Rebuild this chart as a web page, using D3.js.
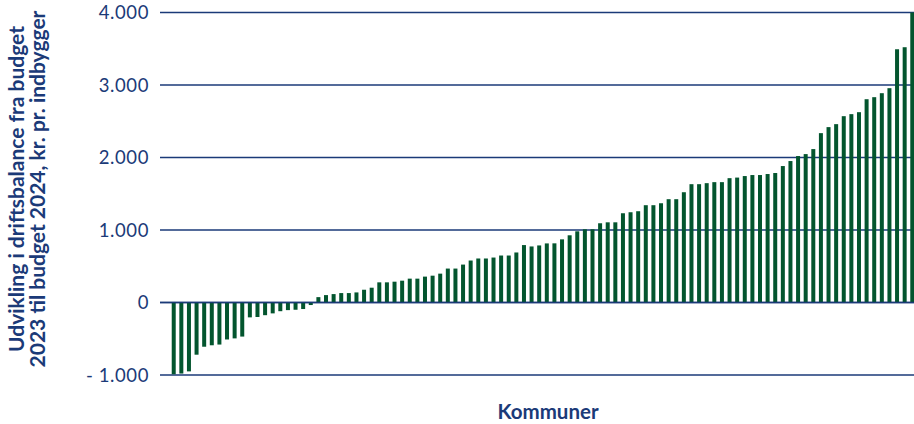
<!DOCTYPE html>
<html>
<head>
<meta charset="utf-8">
<script src="https://cdn.jsdelivr.net/npm/d3@7"></script>
<style>
  html, body { margin: 0; padding: 0; background: #fff; }
  svg { display: block; }
</style>
</head>
<body>
<svg id="chart" width="914" height="424"></svg>
<script>
// Data: one bar per municipality, sorted ascending (kr. pr. indbygger)
const values = [
  -990, -980, -950, -720, -610, -590, -580, -510, -495, -470,
  -205, -200, -175, -150, -120, -105, -100, -90, -35,
  74, 102, 116, 130, 130, 139, 176, 204, 278, 278,
  287, 301, 329, 329, 357, 370, 398, 468, 468, 523,
  579, 607, 607, 620, 648, 648, 690, 792, 773, 787,
  815, 816, 871, 927, 982, 1010, 1010, 1093, 1106, 1106,
  1231, 1245, 1259, 1342, 1342, 1369, 1425, 1425, 1521, 1632,
  1632, 1646, 1660, 1660, 1715, 1723, 1744, 1758, 1758, 1772,
  1786, 1882, 1951, 2020, 2047, 2116, 2336, 2419, 2460, 2570,
  2598, 2625, 2804, 2832, 2887, 2956, 3493, 3521, 4000
];
const categories = values.map((_, i) => "Kommune " + (i + 1));
const yTicks = [-1000, 0, 1000, 2000, 3000, 4000];
const yTickLabels = ["- 1.000", "0", "1.000", "2.000", "3.000", "4.000"];
const yTitleLines = ["Udvikling i driftsbalance fra budget", "2023 til budget 2024, kr. pr. indbygger"];
const xTitle = "Kommuner";

const svg = d3.select("#chart");
const W = 914, H = 424;
const navy = "#1b3a78";
const green = "#03552e";
const font = "Lato, 'Open Sans', sans-serif";

const y = d3.scaleLinear().domain([-1000, 4000]).range([375, 12.5]);
const x = d3.scaleBand().domain(categories).range([167, 919]).paddingInner(0.475).paddingOuter(0.62);

// gridlines
svg.append("g").selectAll("line").data(yTicks).join("line")
  .attr("x1", 160).attr("x2", W)
  .attr("y1", d => y(d)).attr("y2", d => y(d))
  .attr("stroke", navy).attr("stroke-width", 1.6);

// bars
svg.append("g").selectAll("rect").data(values).join("rect")
  .attr("x", (d, i) => x(categories[i]))
  .attr("width", x.bandwidth())
  .attr("y", d => y(Math.max(0, d)))
  .attr("height", d => Math.abs(y(d) - y(0)))
  .attr("fill", green);

// zero line on top
svg.append("line")
  .attr("x1", 160).attr("x2", W).attr("y1", y(0)).attr("y2", y(0))
  .attr("stroke", navy).attr("stroke-width", 1.6).attr("opacity", 0.9);

// y axis labels
const yAxis = d3.axisLeft(y).tickValues(yTicks)
  .tickFormat(d => yTickLabels[yTicks.indexOf(d)]).tickSize(0).tickPadding(0);
const gy = svg.append("g").attr("transform", "translate(149,0)").call(yAxis);
gy.select(".domain").remove();
gy.selectAll("text")
  .attr("fill", navy).style("font-family", font).style("font-size", "18.5px")
  .style("letter-spacing", "0.6px").attr("dy", "0.35em");

// y title
const yt = svg.append("text")
  .attr("transform", "translate(0,189) rotate(-90)")
  .attr("text-anchor", "middle")
  .attr("fill", navy).style("font-family", font).style("font-size", "21px").style("font-weight", "bold");
yTitleLines.forEach((t, i) => {
  yt.append("tspan").attr("x", 0).attr("y", 24 + i * 21).text(t);
});

// x title
svg.append("text")
  .attr("x", 548).attr("y", 419)
  .attr("text-anchor", "middle")
  .attr("fill", navy).style("font-family", font).style("font-size", "20.5px").style("font-weight", "bold")
  .text(xTitle);
</script>
</body>
</html>
